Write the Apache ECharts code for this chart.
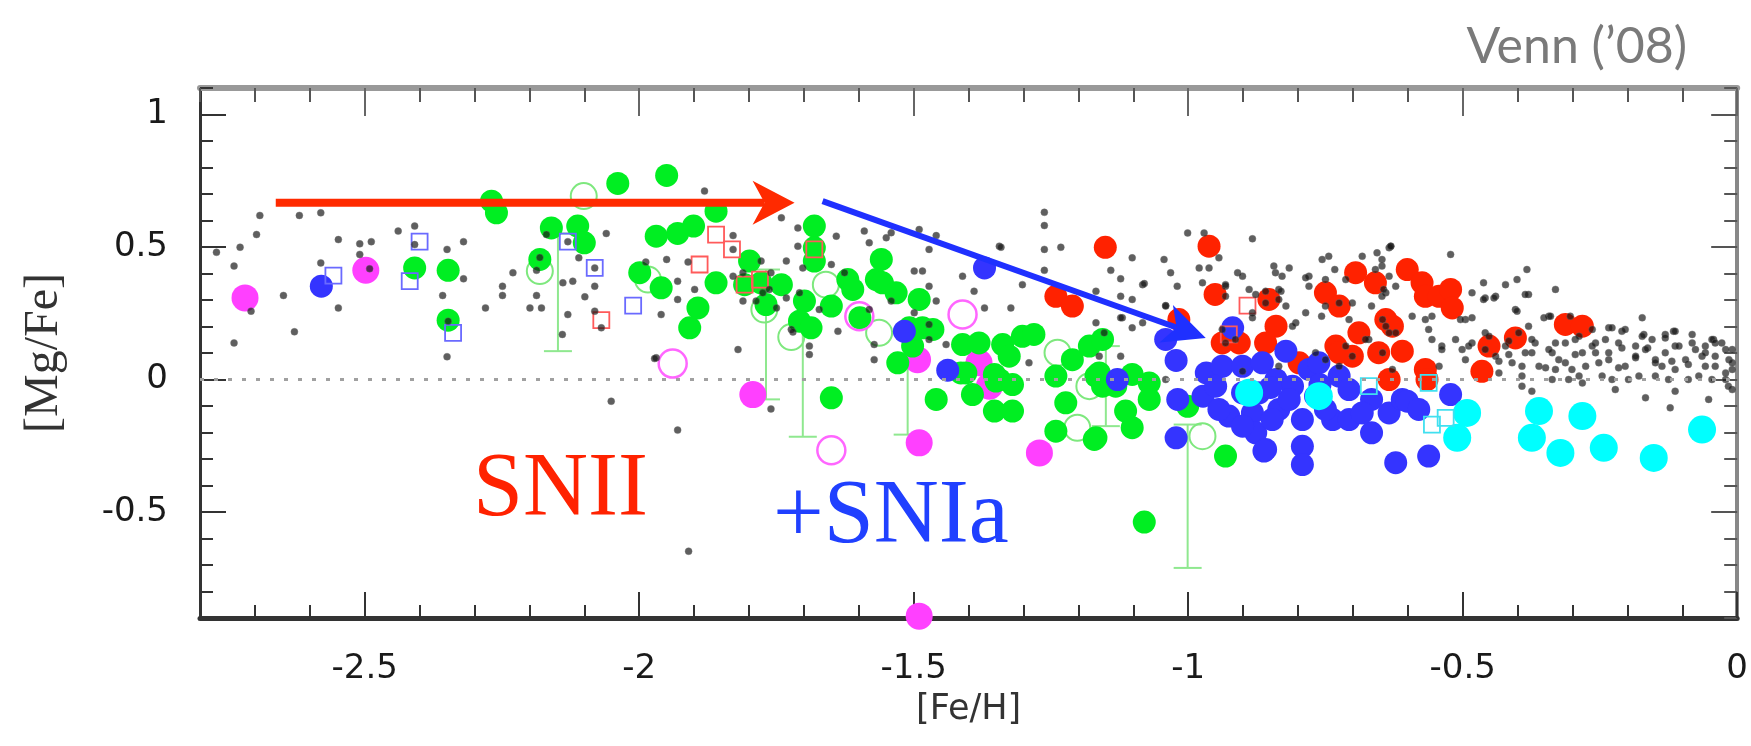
<!DOCTYPE html>
<html>
<head>
<meta charset="utf-8">
<script src="https://cdn.jsdelivr.net/npm/echarts@6/dist/echarts.min.js"></script>
<style>
  html, body { margin: 0; background: #fff; }
  #main { width: 1751px; height: 746px; }
</style>
</head>
<body>
<div id="main"></div>
<script>
// tick values
const majorX = [-2.5, -2, -1.5, -1, -0.5, 0];
const majorY = [-0.5, 0, 0.5, 1];

// [Fe/H], [Mg/Fe]
const greenFilled = [
  [-2.409, 0.421], [-2.348, 0.412], [-2.348, 0.224], [-2.269, 0.673], [-2.260, 0.629], [-2.160, 0.572],
  [-2.112, 0.579], [-2.100, 0.516], [-2.181, 0.453], [-2.039, 0.740], [-1.950, 0.770], [-1.860, 0.635],
  [-1.969, 0.541], [-1.930, 0.551], [-1.901, 0.579], [-1.999, 0.403], [-1.960, 0.346], [-1.860, 0.365],
  [-1.893, 0.270], [-1.908, 0.195], [-1.799, 0.447], [-1.808, 0.358], [-1.769, 0.283], [-1.741, 0.358],
  [-1.778, 0.365], [-1.699, 0.296], [-1.708, 0.220], [-1.687, 0.195], [-1.681, 0.579], [-1.681, 0.497],
  [-1.681, 0.447], [-1.650, 0.277], [-1.620, 0.377], [-1.611, 0.340], [-1.598, 0.233], [-1.559, 0.453],
  [-1.568, 0.377], [-1.557, 0.365], [-1.532, 0.327], [-1.490, 0.302], [-1.508, 0.195], [-1.484, 0.195],
  [-1.465, 0.189], [-1.502, 0.126], [-1.529, 0.063], [-1.411, 0.132], [-1.381, 0.138], [-1.338, 0.132],
  [-1.353, 0.019], [-1.405, 0.025], [-1.650, -0.069], [-1.459, -0.075], [-1.393, -0.057], [-1.353, -0.119],
  [-1.344, 0.000], [-1.414, 0.025], [-1.350, -0.006], [-1.320, -0.019], [-1.320, -0.119], [-1.326, 0.088],
  [-1.241, 0.013], [-1.223, -0.088], [-1.241, -0.195], [-1.171, -0.226], [-1.211, 0.075], [-1.162, 0.025],
  [-1.132, -0.025], [-1.102, 0.019], [-1.114, -0.119], [-1.102, -0.182], [-1.071, -0.013], [-1.071, -0.075],
  [-1.001, -0.101], [-1.080, -0.538], [-0.932, -0.289], [-1.302, 0.163], [-1.281, 0.170], [-1.180, 0.126],
  [-1.156, 0.151], [-1.168, 0.013], [-1.168, -0.220], [-1.156, -0.025]
];
const greenOpen = [
  [-2.181, 0.409], [-2.101, 0.692], [-1.984, 0.377], [-1.772, 0.264], [-1.723, 0.160], [-1.660, 0.358],
  [-1.563, 0.176], [-1.238, 0.101], [-1.202, -0.182], [-0.974, -0.214], [-1.180, -0.025]
];
// x, y, low, high
const greenErrors = [
  [-2.148, 0.333, 0.107, 0.551], [-1.769, 0.170, -0.075, 0.415], [-1.702, 0.053, -0.216, 0.22],
  [-1.511, -0.006, -0.208, 0.19], [-1.150, -0.025, -0.176, 0.126], [-1.001, -0.440, -0.711, -0.17]
];
const magentaFilled = [
  [-2.718, 0.308], [-2.498, 0.412], [-1.793, -0.057], [-1.490, -0.239], [-1.493, 0.075], [-1.381, 0.063],
  [-1.362, -0.025], [-1.271, -0.277], [-1.490, -0.893]
];
const magentaOpen = [[-1.939, 0.060], [-1.650, -0.267], [-1.599, 0.239], [-1.411, 0.245]];
const redFilled = [
  [-1.151, 0.499], [-0.962, 0.503], [-1.241, 0.314], [-1.211, 0.277], [-1.017, 0.226], [-0.951, 0.321],
  [-0.938, 0.138], [-0.907, 0.138], [-0.853, 0.302], [-0.840, 0.201], [-0.859, 0.138], [-0.798, 0.063],
  [-0.750, 0.327], [-0.725, 0.277], [-0.731, 0.126], [-0.701, 0.088], [-0.695, 0.403], [-0.659, 0.365],
  [-0.689, 0.176], [-0.640, 0.226], [-0.653, 0.101], [-0.634, 0.000], [-0.610, 0.107], [-0.601, 0.415],
  [-0.574, 0.365], [-0.568, 0.314], [-0.543, 0.314], [-0.522, 0.340], [-0.519, 0.270], [-0.628, 0.201],
  [-0.568, 0.038], [-0.565, 0.000], [-0.465, 0.031], [-0.452, 0.126], [-0.404, 0.157], [-0.313, 0.208],
  [-0.282, 0.201], [-0.725, 0.101]
];
const blueFilled = [
  [-2.579, 0.352], [-1.371, 0.421], [-1.517, 0.182], [-1.438, 0.035], [-1.129, 0.000], [-1.022, 0.072],
  [-1.019, -0.075], [-1.022, -0.220], [-1.041, 0.151], [-0.967, 0.025], [-0.973, -0.063], [-0.938, 0.050],
  [-0.901, 0.050], [-0.865, 0.063], [-0.840, 0.000], [-0.926, -0.138], [-0.883, -0.126], [-0.877, -0.201],
  [-0.859, -0.264], [-0.835, -0.113], [-0.810, -0.025], [-0.792, -0.151], [-0.792, -0.252], [-0.792, -0.321],
  [-0.780, 0.038], [-0.725, 0.013], [-0.707, -0.038], [-0.737, -0.151], [-0.707, -0.151], [-0.666, -0.201],
  [-0.666, -0.075], [-0.634, -0.126], [-0.610, -0.075], [-0.622, -0.314], [-0.950, -0.025], [-0.901, -0.050],
  [-0.871, -0.050], [-0.816, -0.075], [-0.768, -0.063], [-0.750, -0.113], [-0.847, -0.151], [-0.901, -0.176],
  [-0.944, -0.113], [-0.683, -0.126], [-0.919, 0.195], [-0.822, 0.107], [-0.762, 0.063], [-0.862, -0.270],
  [-0.522, -0.057], [-0.601, -0.082], [-0.580, -0.113], [-0.562, -0.289], [-0.850, -0.030], [-0.760, -0.020]
];
const cyanFilled = [
  [-0.889, -0.050], [-0.762, -0.063], [-0.492, -0.126], [-0.510, -0.220], [-0.361, -0.119], [-0.374, -0.220],
  [-0.322, -0.277], [-0.282, -0.138], [-0.243, -0.258], [-0.152, -0.296], [-0.064, -0.189]
];
const blueSquares = [
  [-2.557, 0.392], [-2.400, 0.520], [-2.418, 0.371], [-2.339, 0.176], [-2.130, 0.520], [-2.081, 0.421], [-2.011, 0.279]
];
const redSquares = [
  [-2.069, 0.224], [-1.860, 0.547], [-1.831, 0.491], [-1.890, 0.434], [-1.808, 0.358], [-1.780, 0.377],
  [-1.681, 0.491], [-0.892, 0.279], [-0.926, 0.170]
];
const cyanSquares = [[-0.671, -0.025], [-0.562, -0.013], [-0.556, -0.170], [-0.531, -0.145]];
const blackDots = [
  [-2.770, 0.480], [-2.727, 0.499], [-2.738, 0.428], [-2.691, 0.619], [-2.697, 0.547], [-2.707, 0.258],
  [-2.738, 0.138], [-2.648, 0.317], [-2.628, 0.180], [-2.619, 0.619], [-2.580, 0.629], [-2.580, 0.440],
  [-2.548, 0.528], [-2.548, 0.270], [-2.509, 0.512], [-2.509, 0.472], [-2.488, 0.520], [-2.491, 0.418],
  [-2.439, 0.560], [-2.409, 0.579], [-2.409, 0.509], [-2.350, 0.491], [-2.320, 0.520], [-2.320, 0.380],
  [-2.358, 0.317], [-2.350, 0.086], [-2.280, 0.270], [-2.249, 0.352], [-2.249, 0.317], [-2.230, 0.403],
  [-2.199, 0.270], [-2.178, 0.270], [-2.187, 0.317], [-2.187, 0.412], [-2.169, 0.547], [-2.139, 0.365],
  [-2.121, 0.371], [-2.130, 0.245], [-2.140, 0.170], [-2.110, 0.459], [-2.099, 0.312], [-2.081, 0.352],
  [-2.081, 0.258], [-2.069, 0.195], [-2.060, 0.551], [-2.081, 0.421], [-2.130, 0.520], [-2.181, 0.460],
  [-2.348, 0.220],
  [-1.881, 0.711], [-1.741, 0.610], [-1.711, 0.572], [-1.711, 0.503], [-1.641, 0.541], [-1.829, 0.543],
  [-1.829, 0.491], [-1.988, 0.443], [-1.950, 0.453], [-1.911, 0.443], [-1.930, 0.371], [-1.899, 0.340],
  [-1.930, 0.302], [-1.960, 0.245], [-1.829, 0.390], [-1.778, 0.447], [-1.732, 0.447], [-1.760, 0.403],
  [-1.708, 0.327], [-1.702, 0.421], [-1.650, 0.434], [-1.672, 0.264], [-1.638, 0.182], [-1.690, 0.126],
  [-1.690, 0.094], [-1.820, 0.113], [-1.969, 0.082], [-1.626, 0.403], [-1.590, 0.560], [-1.581, 0.516],
  [-1.550, 0.535], [-1.541, 0.554], [-1.490, 0.566], [-1.459, 0.543], [-1.472, 0.491], [-1.499, 0.409],
  [-1.484, 0.409], [-1.411, 0.390], [-1.390, 0.333], [-1.371, 0.270], [-1.344, 0.503], [-1.472, 0.352],
  [-1.459, 0.296], [-1.441, 0.132], [-1.581, 0.264], [-1.572, 0.132], [-1.572, 0.075], [-1.472, 0.208],
  [-1.499, 0.252], [-1.541, 0.296], [-1.732, 0.308], [-1.723, 0.189], [-1.811, 0.296], [-1.787, 0.296],
  [-1.750, 0.270], [-1.775, 0.327], [-1.763, 0.340], [-1.811, 0.403], [-1.472, 0.151], [-1.720, 0.179],
  [-2.051, -0.082], [-1.930, -0.191], [-1.760, -0.111], [-1.910, -0.648], [-1.972, 0.079], [-1.290, 0.063],
  [-1.162, 0.088],
  [-1.262, 0.631], [-1.262, 0.581], [-1.262, 0.491], [-1.262, 0.412], [-1.232, 0.499], [-1.341, 0.499],
  [-1.302, 0.358], [-1.323, 0.270], [-1.141, 0.412], [-1.123, 0.380], [-1.102, 0.459], [-1.083, 0.358],
  [-1.123, 0.314], [-1.168, 0.333], [-1.168, 0.214], [-1.153, 0.176], [-1.120, 0.233], [-1.102, 0.195],
  [-1.083, 0.214], [-1.044, 0.453], [-1.032, 0.403], [-1.020, 0.352], [-1.041, 0.279], [-1.001, 0.553],
  [-0.971, 0.553], [-0.980, 0.421], [-0.962, 0.421], [-0.944, 0.459], [-0.974, 0.365], [-0.932, 0.352],
  [-0.883, 0.531], [-0.910, 0.403], [-0.901, 0.390], [-0.889, 0.340], [-0.883, 0.252], [-0.844, 0.428],
  [-0.829, 0.390], [-0.816, 0.421], [-0.835, 0.340], [-0.822, 0.277], [-0.804, 0.214], [-0.780, 0.390],
  [-0.780, 0.352], [-0.756, 0.453], [-0.744, 0.465], [-0.750, 0.377], [-0.733, 0.415], [-0.683, 0.465],
  [-0.656, 0.478], [-0.634, 0.497], [-0.647, 0.428], [-0.640, 0.327], [-0.622, 0.352], [-0.666, 0.277],
  [-0.671, 0.151], [-0.640, 0.201], [-0.622, 0.176], [-0.707, 0.226], [-0.757, 0.239], [-0.835, 0.050],
  [-0.901, 0.031], [-0.750, 0.075], [-0.628, 0.038], [-1.080, 0.362], [-0.932, 0.358], [-0.841, 0.403],
  [-0.786, 0.384], [-0.713, 0.377], [-0.701, 0.289], [-0.631, 0.503], [-0.659, 0.415], [-0.644, 0.340],
  [-0.646, 0.226], [-0.634, 0.176], [-0.677, 0.151], [-0.646, 0.101], [-0.725, 0.289], [-0.750, 0.277],
  [-0.786, 0.252], [-0.810, 0.201], [-0.831, 0.333], [-0.859, 0.333], [-0.877, 0.321], [-0.932, 0.314],
  [-0.883, 0.233], [-0.859, 0.289], [-0.835, 0.302], [-0.725, 0.050], [-0.713, 0.126], [-0.701, 0.088],
  [-0.768, 0.101], [-0.938, 0.189], [-0.932, 0.138], [-0.914, 0.151], [-1.102, 0.302], [-1.123, 0.233],
  [-1.041, 0.277], [-1.123, 0.088], [-1.041, 0.000],
  [-0.522, 0.472], [-0.483, 0.327], [-0.462, 0.365], [-0.459, 0.308], [-0.440, 0.314], [-0.422, 0.358],
  [-0.401, 0.377], [-0.383, 0.415], [-0.380, 0.321], [-0.331, 0.340], [-0.404, 0.264], [-0.343, 0.239],
  [-0.380, 0.201], [-0.304, 0.239], [-0.234, 0.195], [-0.210, 0.182], [-0.173, 0.233], [-0.170, 0.170],
  [-0.131, 0.170], [-0.116, 0.182], [-0.082, 0.170], [-0.082, 0.138], [-0.043, 0.151], [-0.028, 0.138],
  [-0.064, 0.088], [-0.119, 0.069], [-0.122, -0.107], [-0.052, -0.075], [-0.167, -0.069], [-0.113, -0.044],
  [-0.222, -0.038], [-0.282, -0.013], [-0.374, -0.044], [-0.392, -0.025], [-0.307, 0.000], [-0.276, 0.050],
  [-0.246, 0.013], [-0.198, 0.000], [-0.149, 0.013], [-0.089, 0.000], [-0.021, 0.000], [-0.009, -0.038],
  [-0.216, 0.044], [-0.258, 0.101], [-0.295, 0.094], [-0.337, 0.101], [-0.374, 0.101], [-0.416, 0.094],
  [-0.434, 0.069], [-0.392, 0.050], [-0.349, 0.044], [-0.313, 0.063], [-0.234, 0.075], [-0.185, 0.082],
  [-0.149, 0.075], [-0.089, 0.057], [-0.040, 0.050], [-0.015, 0.075], [-0.009, 0.038], [-0.185, 0.126],
  [-0.210, 0.119], [-0.258, 0.138], [-0.295, 0.151], [-0.331, 0.138], [-0.368, 0.138], [-0.416, 0.145],
  [-0.483, 0.138], [-0.501, 0.113], [-0.538, 0.126], [-0.562, 0.189], [-0.556, 0.239], [-0.495, 0.226],
  [-0.459, 0.176], [-0.331, 0.038], [-0.137, 0.050], [-0.163, 0.119], [-0.113, 0.126], [-0.058, 0.126],
  [-0.009, 0.113], [-0.016, -0.025], [-0.631, 0.503], [-0.462, 0.302], [-0.443, 0.308], [-0.386, 0.321],
  [-0.401, 0.258], [-0.483, 0.233], [-0.504, 0.226], [-0.352, 0.233], [-0.340, 0.239], [-0.228, 0.195],
  [-0.204, 0.189], [-0.264, 0.189], [-0.173, 0.163], [-0.131, 0.157], [-0.113, 0.182], [-0.046, 0.151],
  [-0.040, 0.138], [-0.021, 0.113], [-0.009, 0.063], [-0.459, 0.113], [-0.440, 0.088], [-0.422, 0.126],
  [-0.410, 0.063], [-0.386, 0.101], [-0.374, 0.151], [-0.361, 0.050], [-0.343, 0.113], [-0.325, 0.075],
  [-0.313, 0.138], [-0.301, 0.038], [-0.282, 0.101], [-0.264, 0.126], [-0.252, 0.063], [-0.234, 0.101],
  [-0.216, 0.138], [-0.204, 0.050], [-0.185, 0.088], [-0.167, 0.113], [-0.149, 0.063], [-0.131, 0.101],
  [-0.113, 0.038], [-0.094, 0.075], [-0.076, 0.113], [-0.058, 0.050], [-0.040, 0.088], [-0.021, 0.025],
  [-0.434, 0.025], [-0.392, 0.013], [-0.337, 0.000], [-0.288, 0.013], [-0.228, 0.000], [-0.179, 0.013],
  [-0.125, 0.000], [-0.070, 0.013], [-0.452, 0.163], [-0.398, 0.176], [-0.288, 0.163], [-0.240, 0.151],
  [-0.155, 0.151], [-0.106, 0.126], [-0.058, 0.101], [-0.046, 0.000], [-0.556, 0.151], [-0.538, 0.113],
  [-0.568, 0.226], [-0.513, 0.151], [-0.489, 0.126], [-0.495, 0.075], [-0.543, 0.050], [-0.592, 0.239],
  [-0.647, 0.314], [-0.634, 0.390], [-0.647, 0.453]
];
const zeroLine = [[-2.8, 0], [0, 0]];
// x1, y1, x2, y2
const redArrow = [[-2.662, 0.667, -1.717, 0.667]];
const blueArrow = [[-1.666, 0.673, -0.968, 0.157]];

const SANS = '"DejaVu Sans", "Liberation Sans", sans-serif';
const SERIF = '"Liberation Serif", "DejaVu Serif", serif';

function arrowRenderer(width, headLen, headHalf, notch, color) {
  return function (params, api) {
    const a = api.coord([api.value(0), api.value(1)]);
    const b = api.coord([api.value(2), api.value(3)]);
    const dx = b[0] - a[0];
    const dy = b[1] - a[1];
    const len = Math.hypot(dx, dy);
    const ux = dx / len, uy = dy / len;
    const px = -uy, py = ux;
    const base = [b[0] - ux * headLen, b[1] - uy * headLen];
    const inner = [b[0] - ux * (headLen - notch), b[1] - uy * (headLen - notch)];
    return {
      type: 'group',
      children: [
        {
          type: 'line',
          shape: { x1: a[0], y1: a[1], x2: inner[0], y2: inner[1] },
          style: { stroke: color, lineWidth: width }
        },
        {
          type: 'polygon',
          shape: {
            points: [
              b,
              [base[0] + px * headHalf, base[1] + py * headHalf],
              inner,
              [base[0] - px * headHalf, base[1] - py * headHalf]
            ]
          },
          style: { fill: color }
        }
      ]
    };
  };
}

function errorBarRenderer(params, api) {
  const x = api.value(0);
  const lo = api.coord([x, api.value(2)]);
  const hi = api.coord([x, api.value(3)]);
  const cap = 14;
  const style = { stroke: '#8fe88f', lineWidth: 2 };
  return {
    type: 'group',
    children: [
      { type: 'line', shape: { x1: lo[0], y1: lo[1], x2: hi[0], y2: hi[1] }, style },
      { type: 'line', shape: { x1: lo[0] - cap, y1: lo[1], x2: lo[0] + cap, y2: lo[1] }, style },
      { type: 'line', shape: { x1: hi[0] - cap, y1: hi[1], x2: hi[0] + cap, y2: hi[1] }, style }
    ]
  };
}

function filled(data, color, size) {
  return {
    type: 'scatter', data, symbol: 'circle', symbolSize: size,
    itemStyle: { color, opacity: 1 }, silent: true
  };
}
function hollow(data, symbol, color, size, width) {
  return {
    type: 'scatter', data, symbol, symbolSize: size,
    itemStyle: { color: 'rgba(255,255,255,0)', borderColor: color, borderWidth: width, opacity: 1 },
    silent: true
  };
}

function xAxisBase(position) {
  return {
    type: 'value', min: -2.8, max: 0, position,
    splitLine: { show: false }, axisLabel: { show: false }
  };
}
function yAxisBase(position) {
  return {
    type: 'value', min: -0.9, max: 1.1, position,
    splitLine: { show: false }, axisLabel: { show: false }
  };
}

const myChart = echarts.init(document.getElementById('main'), null, { renderer: 'canvas' });

myChart.setOption({
  animation: false,
  backgroundColor: '#ffffff',
  grid: { left: 200, right: 13, top: 88, bottom: 128 },
  xAxis: [
    {
      ...xAxisBase('bottom'), interval: 0.1,
      axisLine: { onZero: false, lineStyle: { color: '#333', width: 5 } },
      axisTick: { inside: true, length: 13, lineStyle: { color: '#333', width: 2 } }
    },
    {
      ...xAxisBase('bottom'),
      axisLine: { show: false, onZero: false },
      axisTick: { inside: true, length: 26, customValues: majorX, lineStyle: { color: '#333', width: 2 } },
      axisLabel: {
        show: true, customValues: majorX, margin: 34,
        fontSize: 34, fontFamily: SANS, color: '#1a1a1a'
      },
      name: '[Fe/H]', nameLocation: 'middle', nameGap: 74,
      nameTextStyle: { fontSize: 35, fontFamily: SANS, color: '#333' }
    },
    {
      ...xAxisBase('top'), interval: 0.1,
      axisLine: { onZero: false, lineStyle: { color: '#999', width: 6 } },
      axisTick: { inside: true, length: 14, lineStyle: { color: '#555', width: 2 } }
    },
    {
      ...xAxisBase('top'),
      axisLine: { show: false, onZero: false },
      axisTick: { inside: true, length: 28, customValues: majorX, lineStyle: { color: '#666', width: 2 } }
    }
  ],
  yAxis: [
    {
      ...yAxisBase('left'), interval: 0.1,
      axisLine: { onZero: false, lineStyle: { color: '#333', width: 3 } },
      axisTick: { inside: true, length: 13, lineStyle: { color: '#333', width: 2 } }
    },
    {
      ...yAxisBase('left'),
      axisLine: { show: false, onZero: false },
      axisTick: { inside: true, length: 26, customValues: majorY, lineStyle: { color: '#333', width: 2 } },
      axisLabel: {
        show: true, customValues: majorY, margin: 32, padding: [8, 0, 0, 0],
        fontSize: 34, fontFamily: SANS, color: '#1a1a1a'
      },
      name: '[Mg/Fe]', nameLocation: 'middle', nameGap: 132,
      nameTextStyle: { fontSize: 48, fontFamily: SERIF, color: '#333' }
    },
    {
      ...yAxisBase('right'), interval: 0.1,
      axisLine: { onZero: false, lineStyle: { color: '#888', width: 4 } },
      axisTick: { inside: true, length: 13, lineStyle: { color: '#555', width: 2 } }
    },
    {
      ...yAxisBase('right'),
      axisLine: { show: false, onZero: false },
      axisTick: { inside: true, length: 26, customValues: majorY, lineStyle: { color: '#555', width: 2 } }
    }
  ],
  graphic: [
    {
      type: 'text', right: 64, top: 22,
      style: { text: 'Venn (\u201908)', font: '50px Lato, "Open Sans", sans-serif', fill: '#7a7a7a' }
    },
    {
      type: 'text', x: 473, y: 491, z: 100,
      style: {
        text: 'SNII', font: '90px "Liberation Serif", serif', fill: '#ff2200',
        textAlign: 'left', textVerticalAlign: 'middle'
      }
    },
    {
      type: 'text', x: 773, y: 518, z: 100,
      style: {
        text: '+SNIa', font: '90px "Liberation Serif", serif', fill: '#2040ff',
        textAlign: 'left', textVerticalAlign: 'middle'
      }
    }
  ],
  series: [
    {
      type: 'line', data: zeroLine, symbol: 'none', silent: true,
      lineStyle: { color: '#a0a0a0', width: 3, type: [4, 10] }
    },
    {
      type: 'custom', data: greenErrors, renderItem: errorBarRenderer,
      encode: { x: 0, y: [1, 2, 3] }, silent: true
    },
    hollow(greenOpen, 'circle', '#7ee87e', 26, 2),
    filled(magentaFilled, '#ff40ff', 27),
    filled(greenFilled, '#00ee22', 23),
    hollow(magentaOpen, 'circle', '#ff66ff', 28, 2.5),
    filled(redFilled, '#ff2200', 23),
    filled(blueFilled, '#3434ff', 23),
    filled(cyanFilled, '#00ffff', 28),
    hollow(blueSquares, 'rect', '#6a6aff', 16, 1.8),
    hollow(redSquares, 'rect', '#ff5a5a', 16, 1.8),
    hollow(cyanSquares, 'rect', '#40e0f0', 16, 1.8),
    {
      type: 'scatter', data: blackDots, symbol: 'circle', symbolSize: 7, silent: true,
      itemStyle: { color: 'rgba(20,20,20,0.85)', borderColor: 'rgba(110,110,110,0.5)', borderWidth: 1 }
    },
    {
      type: 'custom', data: redArrow, renderItem: arrowRenderer(8, 42, 22, 12, '#ff2a00'),
      encode: { x: [0, 2], y: [1, 3] }, silent: true, z: 5
    },
    {
      type: 'custom', data: blueArrow, renderItem: arrowRenderer(6, 42, 20, 11, '#1f30ff'),
      encode: { x: [0, 2], y: [1, 3] }, silent: true, z: 5
    }
  ]
});

window.addEventListener('resize', () => myChart.resize());
</script>
</body>
</html>
